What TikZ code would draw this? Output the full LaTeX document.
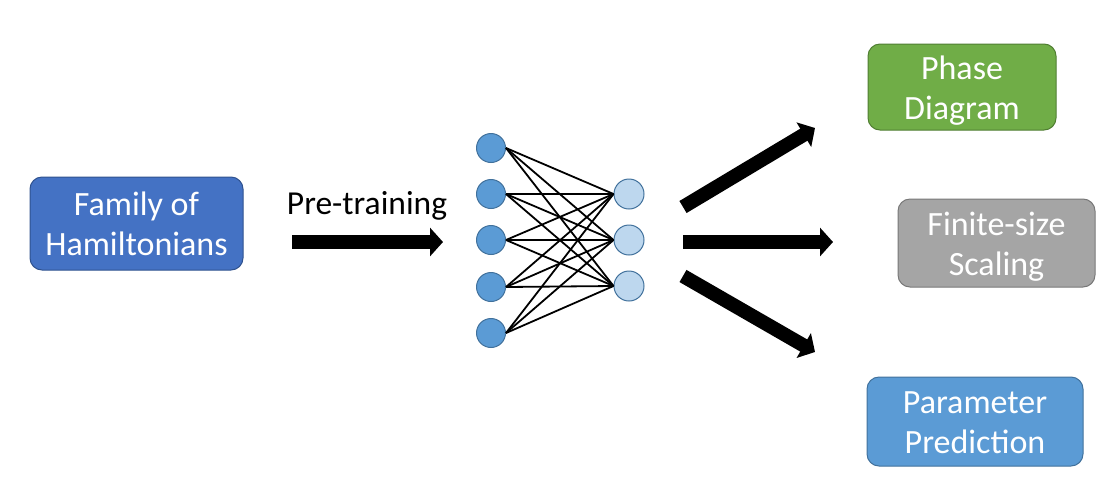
\documentclass[tikz,border=0pt]{standalone}
\usepackage{fontspec}
\setmainfont{Carlito}
\usetikzlibrary{arrows.meta}
\definecolor{boxA}{HTML}{4472C4}\definecolor{boxAb}{HTML}{2F528F}
\definecolor{boxG}{HTML}{70AD47}\definecolor{boxGb}{HTML}{507E32}
\definecolor{boxS}{HTML}{A5A5A5}\definecolor{boxSb}{HTML}{787878}
\definecolor{boxB}{HTML}{5B9BD5}\definecolor{boxBb}{HTML}{41719C}
\definecolor{lightn}{HTML}{BDD7EE}
\newcommand{\twolines}[2]{\raisebox{-4pt}[\height][\depth]{\begin{tabular}{@{}c@{}}#1\\#2\end{tabular}}}
\tikzset{
  rbox/.style={rounded corners=12pt, line width=1pt, text=white,
    font=\fontsize{34}{40}\selectfont, inner sep=0pt},
  innode/.style={circle, minimum size=29pt, inner sep=0pt, fill=boxB, draw=boxBb, line width=1pt},
  outnode/.style={circle, minimum size=30pt, inner sep=0pt, fill=lightn, draw=boxBb, line width=1pt},
  edge/.style={line width=1.8pt, black},
  fat/.style={line width=14pt, -{Triangle[width=28pt,length=13pt]}},
}
\begin{document}
\begin{tikzpicture}[x=1pt,y=-1pt]
\useasboundingbox (0,0) rectangle (1108,496);
\node[rbox, fill=boxA, draw=boxAb, minimum width=213pt, minimum height=93pt] (fam) at (136.5,223.5) {\twolines{Family of}{Hamiltonians}};
\node[rbox, fill=boxG, draw=boxGb, minimum width=188pt, minimum height=86pt] (phase) at (962,87) {\twolines{Phase}{Diagram}};
\node[rbox, fill=boxS, draw=boxSb, minimum width=197pt, minimum height=88pt] (fss) at (996.5,243) {\twolines{Finite-size}{Scaling}};
\node[rbox, fill=boxB, draw=boxBb, minimum width=216pt, minimum height=89pt] (par) at (975,421.5) {\twolines{Parameter}{Prediction}};
\node[font=\fontsize{33.5}{40}\selectfont, anchor=base] (pt) at (367,214) {Pre-training};
\coordinate (p1) at (292,242);
\coordinate (p2) at (443,242);
\draw[fat] (p1) -- (p2);
\foreach \i/\y in {1/148,2/194,3/240,4/287,5/333} {\node[innode] (l\i) at (491,\y) {};}
\foreach \j/\y in {1/194,2/240,3/286} {\node[outnode] (r\j) at (629,\y) {};}
\foreach \i in {1,...,5} {\foreach \j in {1,2,3} {\draw[edge] (l\i.east) -- (r\j.west);}}
\coordinate (a1) at (683,207); \coordinate (b1) at (815,128);
\coordinate (a2) at (683,242); \coordinate (b2) at (833,242);
\coordinate (a3) at (683,276); \coordinate (b3) at (815,352);
\draw[fat] (a1) -- (b1);
\draw[fat] (a2) -- (b2);
\draw[fat] (a3) -- (b3);
\end{tikzpicture}
\end{document}
